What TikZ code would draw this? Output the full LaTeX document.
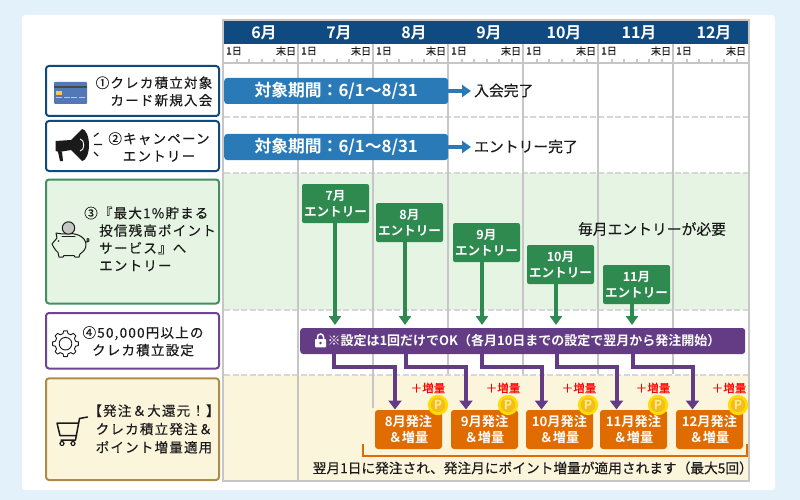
\documentclass[tikz,border=0pt]{standalone}
\usepackage{fontspec}
\setmainfont{Noto Sans CJK JP}
\newfontfamily\jpm[FakeBold=0.25,LetterSpace=9]{Noto Sans CJK JP}
\newfontfamily\jpn[FakeBold=0.25]{Noto Sans CJK JP}
\newfontfamily\jpb{Noto Sans CJK JP}[BoldFont={* Bold}]
\usetikzlibrary{arrows.meta,calc}
\definecolor{pagebg}{HTML}{E3F2FA}
\definecolor{navy}{HTML}{0F4A80}
\definecolor{gridg}{HTML}{C6C6C6}
\definecolor{barblue}{HTML}{2A7AB8}
\definecolor{greenband}{HTML}{E6F5E3}
\definecolor{greenbox}{HTML}{2F8A50}
\definecolor{greenedge}{HTML}{3F9160}
\definecolor{purp}{HTML}{633C85}
\definecolor{purpedge}{HTML}{6F4396}
\definecolor{yelband}{HTML}{FBF5DC}
\definecolor{yeledge}{HTML}{B08A48}
\definecolor{orng}{HTML}{E06C00}
\definecolor{coin}{HTML}{FFDD00}
\definecolor{coinin}{HTML}{F4BC1C}
\definecolor{coinp}{HTML}{FFEC90}
\definecolor{ink}{HTML}{1A1A1A}
\definecolor{cardblue}{HTML}{5278B5}
\definecolor{cardchip}{HTML}{F5C85A}
\newcommand{\fsz}[2]{\fontsize{#1}{#2}\selectfont}
\tikzset{
 rowbox/.style={draw=#1,line width=2pt,rounded corners=3pt,anchor=north west,inner sep=0pt,minimum width=173pt},
 rowlabel/.style={inner sep=0pt,text=ink,font=\jpm\fsz{13.5}{17.5}},
 monthlab/.style={inner sep=0pt,text=white,font=\jpb\bfseries\fsz{16}{16}},
 daylab/.style={inner sep=0pt,text=ink,font=\jpn\fsz{10}{10}},
 periodbar/.style={fill=barblue,rounded corners=3pt,minimum width=224pt,minimum height=26pt,inner sep=0pt,text=white,font=\jpb\bfseries\fsz{16.8}{17}},
 bararrow/.style={draw=barblue,line width=4pt,-{Triangle[length=9pt,width=12pt]}},
 resulttxt/.style={inner sep=0pt,text=ink,font=\jpn\fsz{14.8}{15}},
 greenstep/.style={fill=greenbox,rounded corners=2pt,minimum width=67pt,minimum height=39pt,inner sep=0pt,align=center,text=white,font=\jpb\bfseries\fsz{12.6}{16}},
 greenarrow/.style={draw=greenbox,line width=3.5pt,-{Triangle[length=9pt,width=12pt]}},
 purparrow/.style={draw=purp,line width=4pt,-{Triangle[length=9pt,width=13pt]}},
 orderbox/.style={fill=orng,rounded corners=3pt,minimum width=67pt,minimum height=39pt,inner sep=0pt,align=center,text=white,font=\jpb\bfseries\fsz{13.2}{16}},
 pluslab/.style={inner sep=0pt,text=red,font=\jpn\fsz{11.5}{12}},
 griddash/.style={draw=gridg!70,line width=1.6pt,dash pattern=on 6pt off 2.5pt},
 gridline/.style={draw=gridg,line width=1.8pt},
 iconline/.style={draw=ink,line width=1pt,line join=round,line cap=round},
}
\newcommand{\coinmark}[2]{%
 \fill[coin] (#1,#2) circle (10.2pt);
 \fill[coinin] (#1,#2) circle (7.2pt);
 \node[inner sep=0pt,text=coinp,font=\jpb\bfseries\fsz{12.5}{13}] (coin#1) at (#1,#2) {P};
}
\begin{document}
\begin{tikzpicture}[x=1pt,y=-1pt]
\useasboundingbox (0,0) rectangle (800,500);
\fill[pagebg] (0,0) rectangle (800,500);
\fill[white,rounded corners=3pt] (22,15) rectangle (775,490);
% bands
\fill[greenband] (224,173) rectangle (749,310);
\fill[yelband] (224,375) rectangle (749,481);
\foreach \y in {117,173,310,375} \draw[griddash] (224,\y) -- (749,\y);
% grid
\draw[gridline] (223,20) -- (749,20) -- (749,481) -- (223,481) -- cycle;
\draw[gridline] (223,63) -- (749,63);
\foreach \x in {298,448,523,598,673} \draw[gridline] (\x,44) -- (\x,374);
\draw[gridline] (298,374) -- (298,481);
\draw[gridline] (373,44) -- (373,408);
\foreach \x in {223,298,373,448,523,598,673} {
 \foreach \d in {14,26,39,51,64} \draw[draw=gridg,line width=1.8pt] (\x+\d,59) -- (\x+\d,63);
}
% header
\fill[navy] (224,21) rectangle (748,44);
\foreach \x/\t [count=\i] in {264/6月,339/7月,414/8月,489/9月,564/10月,639/11月,714/12月} {
 \node[monthlab] (m\i) at (\x,32.5) {\t};
}
\foreach \x [count=\i] in {234,309,384,459,534,609,684} {
 \node[daylab] (da\i) at (\x,51) {1日};
 \node[daylab] (db\i) at (\x+52,51) {末日};
}
% left column
\node[rowbox=navy,fill=white,minimum height=50pt] (r1) at (45,65) {};
\node[rowbox=navy,fill=white,minimum height=50pt] (r2) at (45,120) {};
\node[rowbox=greenedge,fill=greenband,minimum height=124pt] (r3) at (45,178.5) {};
\node[rowbox=purpedge,fill=white,minimum height=55.5pt] (r4) at (45,312) {};
\node[rowbox=yeledge,fill=yelband,minimum height=101.7pt] (r5) at (45,377.3) {};
\node[rowlabel,align=right] (l1) at (154,91.5) {①クレカ積立対象\\カード新規入会};
\node[rowlabel,align=center] (l2) at (159,147) {②キャンペーン\\エントリー};
\node[rowlabel,align=left] (l3) at (150,239) {③『最大1\%貯まる\\\hspace*{15pt}投信残高ポイント\\\hspace*{15pt}サービス』へ\\\hspace*{15pt}エントリー};
\node[rowlabel,align=center] (l4) at (143,341.3) {④50,000円以上の\\クレカ積立設定};
\node[rowlabel,align=center,font=\jpm\fsz{13.5}{18.3}] (l5) at (154,429) {【発注＆大還元！】\\クレカ積立発注＆\\ポイント増量適用};
% card icon
\fill[cardblue,rounded corners=1pt] (54,82) rectangle (87,104);
\fill[ink!80] (54,86.5) rectangle (87,88.5);
\fill[cardchip] (56,91) rectangle (61.5,95);
\foreach \x in {56,63.5,71,78.5} \fill[gray!45] (\x,97) rectangle (\x+6,98.3);
% megaphone icon
\fill[ink] (55.5,141) -- (71,140) -- (82,129) .. controls (86,129) and (89,137) .. (89,145) .. controls (89,153) and (86,161) .. (82,161) -- (71,150) -- (59,152) -- (55.5,151) -- cycle;
\fill[ink] (58,152) -- (62,151.5) -- (63,161) -- (60,161) -- cycle;
\draw[white,line width=.9pt] (80,139) .. controls (85,139) and (85,151) .. (80,151);
\draw[ink,line width=1.2pt] (94,136.5) -- (98.5,133) (94,144.5) -- (102,144.5) (94,152) -- (98,156);
% pig icon
\draw[iconline] (66,233.8) .. controls (75,232.5) and (86,236) .. (86,245) .. controls (86,249) and (83,252) .. (80,254) -- (79,257) -- (75,257) -- (74,255.5) -- (64,255.5) -- (63,257) -- (59,257) -- (58,252.5) .. controls (55,250) and (53,246) .. (52,244) -- (57,238) -- (56,233) .. controls (59,233) and (61,234.5) .. (66,233.8) -- cycle;
\draw[iconline] (85.5,242) .. controls (89,243) and (90,239) .. (88,238.5) .. controls (86,238) and (87,243) .. (89,241);
\draw[iconline] (62,236.5) -- (75,236.5);
\fill[gridg] (68.5,228) circle (6pt);
\draw[iconline] (68.5,228) circle (6.2pt);
\fill[ink] (58.5,241) circle (.8pt);
% gear icon
\draw[iconline,line width=.9pt] ($(65.5,343.7)+(-8:13)$)
 \foreach \a in {0,45,...,315} {
  -- ($(65.5,343.7)+(\a+8:13)$) -- ($(65.5,343.7)+(\a+14:10.4)$) -- ($(65.5,343.7)+(\a+31:10.4)$) -- ($(65.5,343.7)+(\a+37:13)$)
 } -- cycle;
\draw[iconline,line width=.9pt] (65.5,343.7) circle (6.3pt);
% cart icon
\draw[iconline,line width=1.5pt] (87.5,417) -- (79.5,418.5) -- (75.5,440) -- (61,440);
\draw[iconline,line width=1.5pt] (57,423) -- (78.5,423) (57,423) -- (60,435.5) -- (76.5,435.5);
\draw[iconline,line width=1.2pt] (62,443.5) circle (2pt) (73,443.5) circle (2pt);
% periods
\node[periodbar,anchor=west] (p1) at (224,91) {対象期間：6/1〜8/31};
\node[periodbar,anchor=west] (p2) at (224,147) {対象期間：6/1〜8/31};
\coordinate (p1e) at (471,91);
\coordinate (p2e) at (471,147);
\draw[bararrow] (p1.east) -- (p1e);
\draw[bararrow] (p2.east) -- (p2e);
\node[resulttxt,anchor=west] (t1) at (474,90.5) {入会完了};
\node[resulttxt,anchor=west] (t2) at (474,146.5) {エントリー完了};
\node[resulttxt] (t3) at (652,229) {毎月エントリーが必要};
% purple bar
\node[fill=purp,rounded corners=3pt,minimum width=445pt,minimum height=26pt,inner sep=0pt,anchor=west] (pb) at (300,341) {};
\node[inner sep=0pt,text=white,font=\jpb\bfseries\fsz{13}{13}] (pbt) at (524,341) {※設定は1回だけでOK（各月10日までの設定で翌月から発注開始）};
\fill[white,rounded corners=.8pt] (315,339) rectangle (326,347.3);
\draw[white,line width=1.5pt] (317.5,339) -- (317.5,337) arc[start angle=180,end angle=0,radius=3pt] -- (323.5,339);
\fill[purp] (320.5,343) circle (1.3pt);
% green steps
\foreach \n/\x/\y/\t/\tipx in {7/335.5/203.5/7月/335,8/409.5/222.5/8月/405,9/486.5/242.5/9月/482,10/560.5/264.5/10月/556,11/636.5/284.5/11月/632} {
 \node[greenstep] (g\n) at (\x,\y) {\t\\エントリー};
 \coordinate (gf\n) at (\tipx,\y+19.5);
 \coordinate (gt\n) at (\tipx,325);
 \draw[greenarrow] (gf\n) -- (gt\n);
}
% orders
\foreach \n/\x/\t/\cx/\px in {8/408.5/8月/438/428,9/484.5/9月/508/503,10/559.5/10月/588/579,11/633.5/11月/658/653,12/709.5/12月/738/729} {
 \node[orderbox] (o\n) at (\x,429.5) {\t 発注\\＆増量};
 \node[pluslab] (pl\n) at (\px,388) {＋増量};
 \coinmark{\cx}{405}
}
\foreach \n/\a/\b in {8/334/395,9/406/466,10/482/541.5,11/556.5/616.5,12/633/692.5} {
 \coordinate (ps\n) at (\a,354);
 \coordinate (pe\n) at (\b,409.5);
 \draw[purparrow] (ps\n) -- (\a,367) -| (pe\n);
}
% bracket
\coordinate (br1) at (363,444);
\coordinate (br2) at (747,444);
\draw[draw=orng,line width=2pt] (br1) -- (363,456) -- (747,456) -- (br2);
\node[inner sep=0pt,text=ink,font=\jpn\fsz{13.7}{14},anchor=east] (note) at (753,468) {翌月1日に発注され、発注月にポイント増量が適用されます（最大5回）};
\end{tikzpicture}
\end{document}
